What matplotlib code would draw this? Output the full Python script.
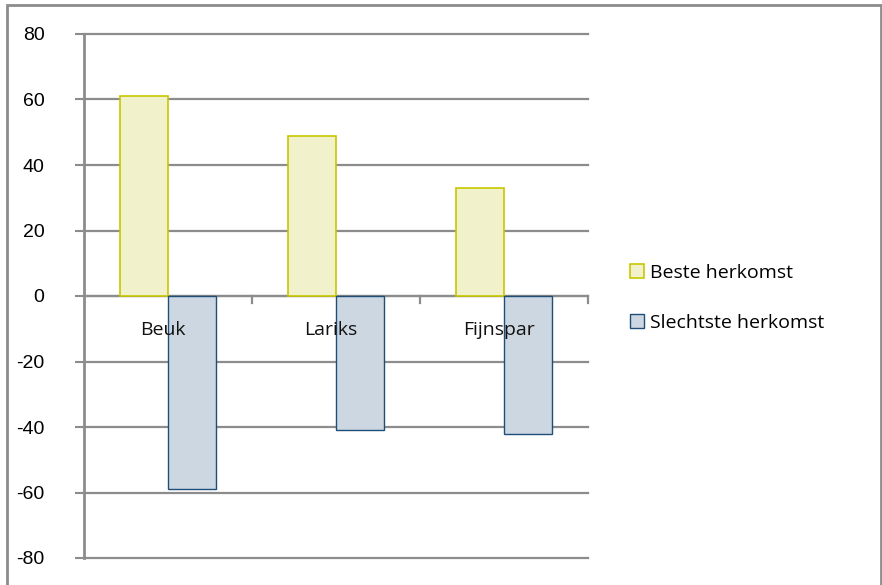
import matplotlib
matplotlib.use("Agg")
import matplotlib.pyplot as plt
from matplotlib.patches import Rectangle
import numpy as np

categories = ["Beuk", "Lariks", "Fijnspar"]
beste = [61, 49, 33]
slechtste = [-59, -41, -42]
series_names = ["Beste herkomst", "Slechtste herkomst"]
yticks = [-80, -60, -40, -20, 0, 20, 40, 60, 80]

W, H = 882, 585
fig = plt.figure(figsize=(W / 100, H / 100), dpi=100)
fig.patch.set_facecolor("white")

# outer border
fig.add_artist(Rectangle((7 / W, -0.01), (881 - 7) / W, 1 - 5 / H + 0.01,
                         transform=fig.transFigure, fill=False,
                         edgecolor="#8c8c8c", linewidth=2))

ax = fig.add_axes([84 / W, (H - 558) / H, (588 - 84) / W, (558 - 34) / H])
grid_col = "#8c8c8c"
x = np.arange(len(categories))
bw = 48 / 168
ax.bar(x - bw / 2, beste, width=bw, color="#f1f1cb", edgecolor="#c8c800",
       linewidth=1.2, label=series_names[0], zorder=3)
ax.bar(x + bw / 2, slechtste, width=bw, color="#cdd7e1", edgecolor="#1f4e79",
       linewidth=1.0, label=series_names[1], zorder=3)

ax.set_xlim(-0.5, len(categories) - 0.5)
ax.set_ylim(-80, 80)
ax.set_yticks(yticks)
ax.set_yticklabels([str(v) for v in yticks], fontsize=14, family="Liberation Sans")
ax.tick_params(axis="y", length=6.5, width=1.5, color=grid_col, pad=22)
ax.set_xticks([])
for s in ["top", "right", "bottom"]:
    ax.spines[s].set_visible(False)
ax.spines["left"].set_color(grid_col)
ax.spines["left"].set_linewidth(2)
ax.yaxis.grid(True, color=grid_col, linewidth=1.6, zorder=1)
ax.set_axisbelow(True)
for gl in ax.get_ygridlines():
    gl.set_clip_on(False)

# zero axis with category tick marks
ax.axhline(0, color=grid_col, linewidth=1.6, zorder=2)
for b in np.arange(0.5, len(categories), 1.0):
    ax.plot([b, b], [0, -2.2], color=grid_col, linewidth=1.6, zorder=2, clip_on=False)

for i, c in enumerate(categories):
    ax.text(i - 0.03, -10.5, c, ha="center", va="center", fontsize=14,
            family="Open Sans", color="#111111", zorder=4)

leg = fig.legend(loc="upper left", bbox_to_anchor=(622 / W, 1 - 256 / H),
                 frameon=False, prop={"family": "Open Sans", "size": 14},
                 handlelength=0.75, handleheight=0.75, handletextpad=0.3,
                 labelspacing=1.65, borderaxespad=0)

fig.savefig("out.png", dpi=100)
